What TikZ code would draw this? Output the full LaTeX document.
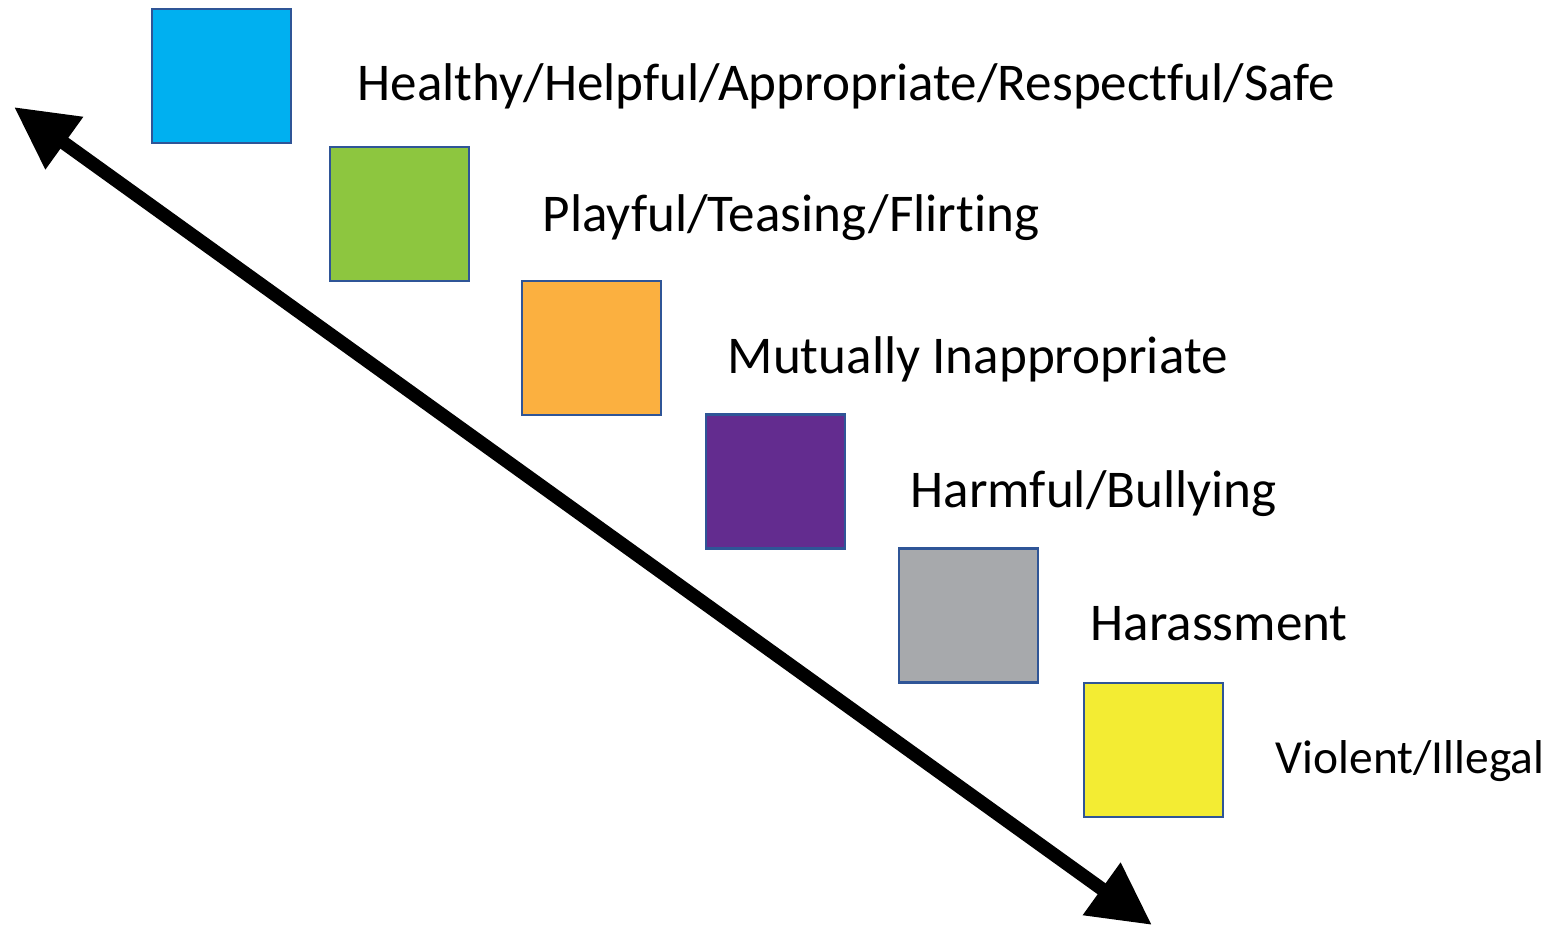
\documentclass[tikz,border=0pt]{standalone}
\usepackage{fontspec}
\setmainfont{Carlito}[Ligatures=NoCommon]
\usetikzlibrary{positioning,arrows.meta}

\definecolor{safeblue}{HTML}{00B0F0}
\definecolor{playgreen}{HTML}{8DC63F}
\definecolor{mutorange}{HTML}{FBB040}
\definecolor{harmpurple}{HTML}{632C8F}
\definecolor{harasgray}{HTML}{A7A9AC}
\definecolor{violyellow}{HTML}{F3EC33}
\definecolor{boxedge}{HTML}{2F5597}

\begin{document}
\begin{tikzpicture}[
        x=0.01cm, y=-0.01cm,
        level/.style={rectangle, draw=boxedge, line width=0.025cm, minimum width=1.39cm, minimum height=1.34cm, inner sep=0pt},
        tag/.style={anchor=base west, inner sep=0pt, font=\fontsize{15.1pt}{18pt}\selectfont},
        >={Triangle[length=0.62cm, width=0.61cm]}
    ]
        \useasboundingbox (0,0) rectangle (1550,927);

        % colour squares
        \node[level, fill=safeblue] (b1) at (221.5,76) {};
        \node[level, fill=playgreen] (b2) at (399.5,214) {};
        \node[level, fill=mutorange] (b3) at (591.5,348) {};
        \node[level, fill=harmpurple] (b4) at (775.5,481.5) {};
        \node[level, fill=harasgray] (b5) at (968.5,615.5) {};
        \node[level, fill=violyellow] (b6) at (1153.5,750) {};

        % labels
        \node[tag] (t1) at (357,100) {Healthy/Helpful/Appropriate/Respectful/Safe};
        \node[tag] (t2) at (542,231) {Playful/Teasing/Flirting};
        \node[tag] (t3) at (727,373) {Mutually Inappropriate};
        \node[tag] (t4) at (910,507) {Harmful/Bullying};
        \node[tag] (t5) at (1090,640) {Harassment};
        \node[tag, font=\fontsize{13.5pt}{16pt}\selectfont] (t6) at (1275,773) {Violent/Illegal};

        % scale arrow
        \coordinate (top) at (14,107);
        \coordinate (bottom) at (1152,925);
        \draw[<->, line width=0.135cm] (top) -- (bottom);
    \end{tikzpicture}
\end{document}
